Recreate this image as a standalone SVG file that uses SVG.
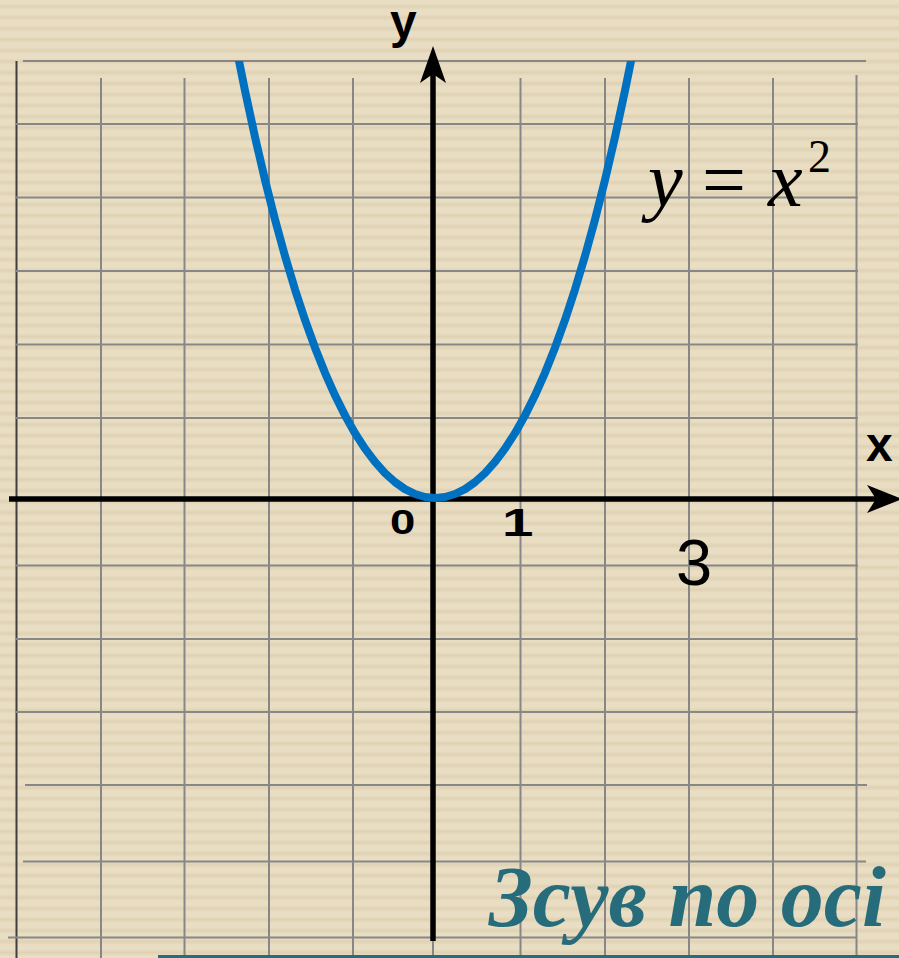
<svg xmlns="http://www.w3.org/2000/svg" width="899" height="958" viewBox="0 0 899 958">
<defs>
<linearGradient id="stripeGrad" x1="0" y1="0" x2="0" y2="1">
<stop offset="0" stop-color="#e9ddc3"/>
<stop offset="0.3" stop-color="#e9ddc3"/>
<stop offset="0.6" stop-color="#dfd2b4"/>
<stop offset="0.9" stop-color="#e9ddc3"/>
<stop offset="1" stop-color="#e9ddc3"/>
</linearGradient>
<pattern id="stripes" x="0" y="0" width="899" height="11" patternUnits="userSpaceOnUse">
<rect width="899" height="11" fill="url(#stripeGrad)"/>
</pattern>
<clipPath id="curveClip"><rect x="0" y="61" width="899" height="897"/></clipPath>
</defs>
<style>
.grid{stroke:#878787;stroke-width:2;fill:none}
.frame{stroke:#3f3f3f;stroke-width:2;fill:none}
.axis{stroke:#000;stroke-width:5.5;fill:none}
.lab{font-family:"Liberation Sans",Arial,sans-serif;font-weight:bold;fill:#000}
.math{font-family:"Liberation Serif","Times New Roman",serif;fill:#000}
.title{font-family:"Liberation Serif","Times New Roman",serif;font-weight:bold;font-style:italic;fill:#276c7b}
</style>
<rect width="899" height="958" fill="url(#stripes)"/>
<g id="grid">
<line class="frame" x1="16.5" y1="61" x2="16.5" y2="958"/>
<line class="grid" x1="23" y1="61" x2="866" y2="61"/>
<line class="grid" x1="16" y1="124" x2="858" y2="124"/>
<line class="grid" x1="16" y1="197.5" x2="858" y2="197.5"/>
<line class="grid" x1="16" y1="271" x2="858" y2="271"/>
<line class="grid" x1="16" y1="344.5" x2="858" y2="344.5"/>
<line class="grid" x1="16" y1="418" x2="858" y2="418"/>
<line class="grid" x1="16" y1="565.5" x2="858" y2="565.5"/>
<line class="grid" x1="16" y1="639" x2="858" y2="639"/>
<line class="grid" x1="16" y1="712" x2="858" y2="712"/>
<line class="grid" x1="25" y1="785" x2="867" y2="785"/>
<line class="grid" x1="23" y1="861.5" x2="866" y2="861.5"/>
<line class="grid" x1="8" y1="937.5" x2="857" y2="937.5"/>
<line class="grid" x1="101" y1="78" x2="101" y2="958"/>
<line class="grid" x1="184.5" y1="78" x2="184.5" y2="958"/>
<line class="grid" x1="269" y1="78" x2="269" y2="958"/>
<line class="grid" x1="353" y1="78" x2="353" y2="958"/>
<line class="grid" x1="433" y1="78" x2="433" y2="958"/>
<line class="grid" x1="520.5" y1="78" x2="520.5" y2="958"/>
<line class="grid" x1="605" y1="78" x2="605" y2="958"/>
<line class="grid" x1="689" y1="78" x2="689" y2="958"/>
<line class="grid" x1="773" y1="78" x2="773" y2="958"/>
<line class="grid" x1="856.5" y1="75" x2="856.5" y2="958"/>
</g>
<g id="axes">
<line class="axis" x1="9" y1="499" x2="880" y2="499"/>
<polygon points="902,499 867,485 876,499 867,513" fill="#000"/>
<line class="axis" x1="433" y1="941" x2="433" y2="70"/>
<polygon points="433,46 420,83 433,74 446,83" fill="#000"/>
</g>
<g id="curve" clip-path="url(#curveClip)">
<polyline fill="none" stroke="#0070c0" stroke-width="8" stroke-linejoin="round" points="238,50 239,61.0 245,90.6 255,137.0 265,180.0 275,219.6 285,256.0 295,289.4 305,319.9 315,347.7 325,372.8 335,395.3 345,415.4 355,433.2 365,448.7 375,461.9 385,473.1 395,482.1 405,489.1 415,494.0 425,497.0 435,498 445,497.0 455,494.0 465,489.1 475,482.1 485,473.1 495,461.9 505,448.7 515,433.2 525,415.4 535,395.3 545,372.8 555,347.7 565,319.9 575,289.4 585,256.0 595,219.6 605,180.0 615,137.0 625,90.6 631,61.0 632,50"/>
</g>
<g id="labels">
<text class="lab" x="390" y="38" font-size="48">y</text>
<text class="lab" x="866" y="461" font-size="48">x</text>
<text class="lab" font-size="35" transform="translate(390,534) scale(1.3,1)">0</text>
<text class="lab" font-size="39" transform="translate(502,536) scale(1.45,1)">1</text>
<text x="676" y="585" font-size="65" font-family="Liberation Sans,Arial,sans-serif" fill="#000">3</text>
<text class="math" y="206" font-size="78"><tspan x="648" font-style="italic">y</tspan><tspan x="702">=</tspan><tspan x="768" font-style="italic">x</tspan></text>
<text class="math" x="808" y="172" font-size="46">2</text>
</g>
<g id="title">
<text class="title" x="489" y="926" font-size="86">Зсув по осі</text>
<line x1="158" y1="956.5" x2="899" y2="956.5" stroke="#276c7b" stroke-width="3"/>
</g>
</svg>
